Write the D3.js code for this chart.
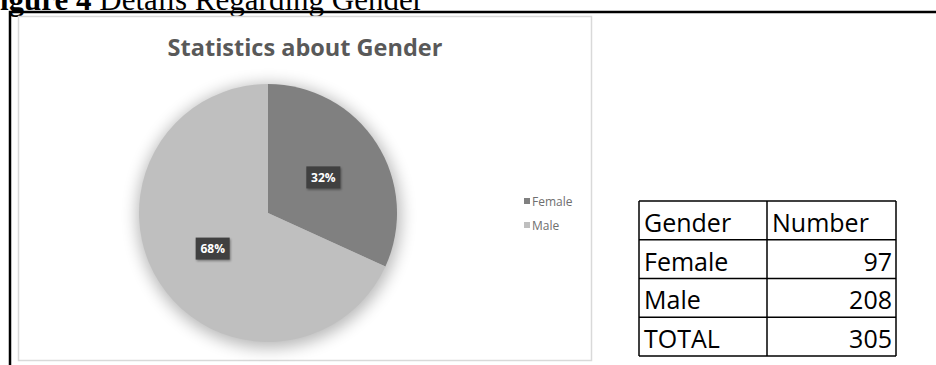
<!DOCTYPE html>
<html>
<head>
<meta charset="utf-8">
<script src="https://cdn.jsdelivr.net/npm/d3@7"></script>
<style>
body { margin: 0; background: #fff; }
svg { display: block; }
</style>
</head>
<body>
<div id="fig"></div>
<script>
var w = 936;
var h = 365;

// data
var genders = ["Female", "Male"];
var counts = [97, 208];
var sliceColors = ["#808080", "#bfbfbf"];
var tableHeader = ["Gender", "Number"];
var totalLabel = "TOTAL";

var svg = d3.select("#fig").append("svg")
	.attr("width", w)
	.attr("height", h);

var defs = svg.append("defs");
var shadow = defs.append("filter").attr("id", "soft")
	.attr("x", "-30%").attr("y", "-30%").attr("width", "160%").attr("height", "160%");
shadow.append("feGaussianBlur").attr("stdDeviation", 8);

var lblShadow = defs.append("filter").attr("id", "lbl")
	.attr("x", "-30%").attr("y", "-30%").attr("width", "160%").attr("height", "160%");
lblShadow.append("feGaussianBlur").attr("stdDeviation", 1.2);

// caption (its top is cut off in the original too)
svg.append("text")
	.attr("x", 0)
	.attr("y", 9.5)
	.attr("font-family", "Liberation Serif")
	.attr("font-size", 31)
	.attr("fill", "#000")
	.call(function(t) {
		t.append("tspan").attr("font-weight", "bold").text("igure 4 ");
		t.append("tspan").text("Details Regarding Gender");
	});

// outer black frame
svg.append("path")
	.attr("d", "M10," + h + "V12H" + w)
	.attr("fill", "none")
	.attr("stroke", "#000")
	.attr("stroke-width", 2.5);

// chart area
svg.append("rect")
	.attr("x", 18.5).attr("y", 16.5)
	.attr("width", 573).attr("height", 344)
	.attr("fill", "#fff")
	.attr("stroke", "#d9d9d9")
	.attr("stroke-width", 1.5);

svg.append("text")
	.attr("x", 305)
	.attr("y", 56)
	.attr("text-anchor", "middle")
	.attr("font-family", "Open Sans")
	.attr("font-weight", "bold")
	.attr("font-size", 23.5)
	.attr("fill", "#595959")
	.text("Statistics about Gender");

// pie
var cx = 268, cy = 213, R = 129;
var pie = d3.pie().sort(null)(counts);
var arc = d3.arc().innerRadius(0).outerRadius(R);
var total = d3.sum(counts);

var g = svg.append("g").attr("transform", "translate(" + cx + "," + cy + ")");

g.append("circle")
	.attr("cx", 1).attr("cy", 3)
	.attr("r", R + 3)
	.attr("fill", "#000")
	.attr("opacity", 0.28)
	.attr("filter", "url(#soft)");

g.selectAll("path.slice")
	.data(pie)
	.enter()
	.append("path")
	.attr("class", "slice")
	.attr("d", arc)
	.attr("fill", function(d, i) { return sliceColors[i]; });

var labelArc = d3.arc().innerRadius(0).outerRadius(R * 1.02);
var labels = g.selectAll("g.lbl")
	.data(pie)
	.enter()
	.append("g")
	.attr("class", "lbl")
	.attr("transform", function(d) {
		var c = labelArc.centroid(d);
		return "translate(" + c[0] + "," + c[1] + ")";
	});

labels.append("rect")
	.attr("x", -17).attr("y", -11)
	.attr("width", 34).attr("height", 22)
	.attr("fill", "#000")
	.attr("opacity", 0.35)
	.attr("filter", "url(#lbl)")
	.attr("transform", "translate(1,1.5)");

labels.append("rect")
	.attr("x", -17).attr("y", -11)
	.attr("width", 34).attr("height", 22)
	.attr("fill", "#404040");

labels.append("text")
	.attr("y", 4.5)
	.attr("text-anchor", "middle")
	.attr("font-family", "Open Sans")
	.attr("font-weight", "bold")
	.attr("font-size", 12)
	.attr("fill", "#fff")
	.text(function(d) { return Math.round(d.data / total * 100) + "%"; });

// legend
var legend = svg.selectAll("g.leg")
	.data(genders)
	.enter()
	.append("g")
	.attr("class", "leg")
	.attr("transform", function(d, i) { return "translate(524," + (201 + i * 24) + ")"; });

legend.append("rect")
	.attr("x", 0).attr("y", -3)
	.attr("width", 6).attr("height", 6)
	.attr("fill", function(d, i) { return sliceColors[i]; });

legend.append("text")
	.attr("x", 8).attr("y", 4.5)
	.attr("font-family", "Open Sans")
	.attr("font-size", 12)
	.attr("fill", "#6f6f6f")
	.text(function(d) { return d; });

// table
var rows = [tableHeader].concat(genders.map(function(d, i) { return [d, counts[i]]; }))
	.concat([[totalLabel, total]]);

var tx0 = 639, tx1 = 767, tx2 = 896, ty0 = 201, rowH = 38.75;
var rowY = d3.scaleLinear().domain([0, rows.length]).range([ty0, ty0 + rowH * rows.length]);

var tbl = svg.append("g");
tbl.selectAll("line.row")
	.data(d3.range(rows.length + 1))
	.enter()
	.append("line")
	.attr("x1", tx0).attr("x2", tx2)
	.attr("y1", function(d) { return rowY(d); })
	.attr("y2", function(d) { return rowY(d); })
	.attr("stroke", "#000")
	.attr("stroke-width", 1.5);

[tx0, tx1, tx2].forEach(function(x) {
	tbl.append("line")
		.attr("x1", x).attr("x2", x)
		.attr("y1", rowY(0)).attr("y2", rowY(rows.length))
		.attr("stroke", "#000")
		.attr("stroke-width", 1.5);
});

var tr = tbl.selectAll("g.tr")
	.data(rows)
	.enter()
	.append("g")
	.attr("class", "tr")
	.attr("transform", function(d, i) { return "translate(0," + (rowY(i + 1) - 8) + ")"; });

tr.append("text")
	.attr("x", tx0 + 5)
	.attr("font-family", "Open Sans")
	.attr("font-size", 25)
	.attr("fill", "#000")
	.text(function(d) { return d[0]; });

tr.append("text")
	.attr("x", function(d, i) { return i === 0 ? tx1 + 5 : tx2 - 4; })
	.attr("text-anchor", function(d, i) { return i === 0 ? "start" : "end"; })
	.attr("font-family", "Open Sans")
	.attr("font-size", 25)
	.attr("fill", "#000")
	.text(function(d) { return d[1]; });
</script>
</body>
</html>
